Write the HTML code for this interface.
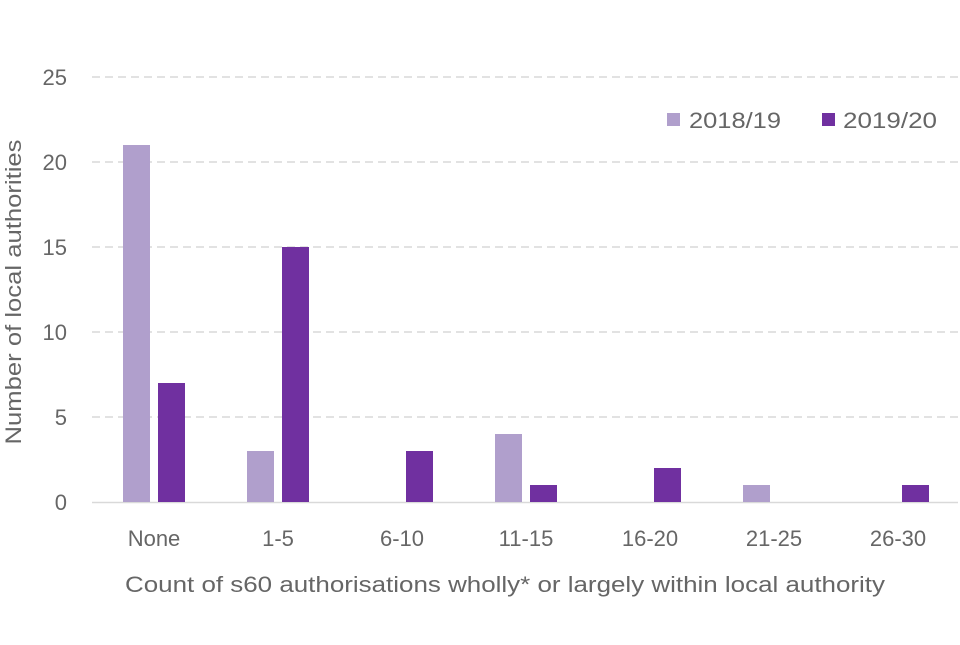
<!DOCTYPE html>
<html><head><meta charset="utf-8"><style>
body{margin:0;background:#fff;}
svg text{font-family:"Liberation Sans",sans-serif;fill:#666;}
</style></head><body>
<svg id="chart" width="960" height="640" viewBox="0 0 960 640">
<g id="grid"></g><g id="bars"></g><g id="xl"></g>
<text x="21" y="292" font-size="22" text-anchor="middle" textLength="305" lengthAdjust="spacingAndGlyphs" transform="rotate(-90 21 292)">Number of local authorities</text>
<text x="505" y="592" font-size="22" text-anchor="middle" textLength="760" lengthAdjust="spacingAndGlyphs">Count of s60 authorisations wholly* or largely within local authority</text>
<g>
<rect x="667" y="113" width="13" height="13" fill="#b09fcc"/>
<text x="689" y="128" font-size="22" textLength="92" lengthAdjust="spacingAndGlyphs">2018/19</text>
<rect x="822" y="113" width="13" height="13" fill="#7030a0"/>
<text x="843" y="128" font-size="22" textLength="94" lengthAdjust="spacingAndGlyphs">2019/20</text>
</g>
</svg>
<script>
const categories=["None","1-5","6-10","11-15","16-20","21-25","26-30"];
const s2018=[21,3,0,4,0,1,0];
const s2019=[7,15,3,1,2,0,1];
const yTicks=[0,5,10,15,20,25];
const NS="http://www.w3.org/2000/svg";
const y=v=>502-v*17;
const xc=i=>154+i*124;
function mk(t,a,p){const e=document.createElementNS(NS,t);for(const k in a)e.setAttribute(k,a[k]);p.appendChild(e);return e;}
const g=document.getElementById('grid');
yTicks.forEach(v=>{
 if(v>0){const l=mk('line',{x1:92,x2:958,y1:y(v),y2:y(v),stroke:'#d9d9d9','stroke-width':1.5,'stroke-dasharray':'8,5'},g);
 
 }
 const t=mk('text',{x:67,y:y(v)+8,'font-size':22,'text-anchor':'end'},g);t.textContent=v;
 
 
});
const base=mk('line',{x1:92,x2:958,y1:502.5,y2:502.5,stroke:'#d9d9d9','stroke-width':1.5},g);


const b=document.getElementById('bars'),xl=document.getElementById('xl');
categories.forEach((c,i)=>{
 const r1=mk('rect',{x:xc(i)-31,y:y(s2018[i]),width:27,height:s2018[i]*17,fill:'#b09fcc'},b);
 
 
 const r2=mk('rect',{x:xc(i)+4,y:y(s2019[i]),width:27,height:s2019[i]*17,fill:'#7030a0'},b);
 
 
 const t=mk('text',{x:xc(i),y:546,'font-size':22,'text-anchor':'middle'},xl);t.textContent=c;
 
 
});
</script>
</body></html>
